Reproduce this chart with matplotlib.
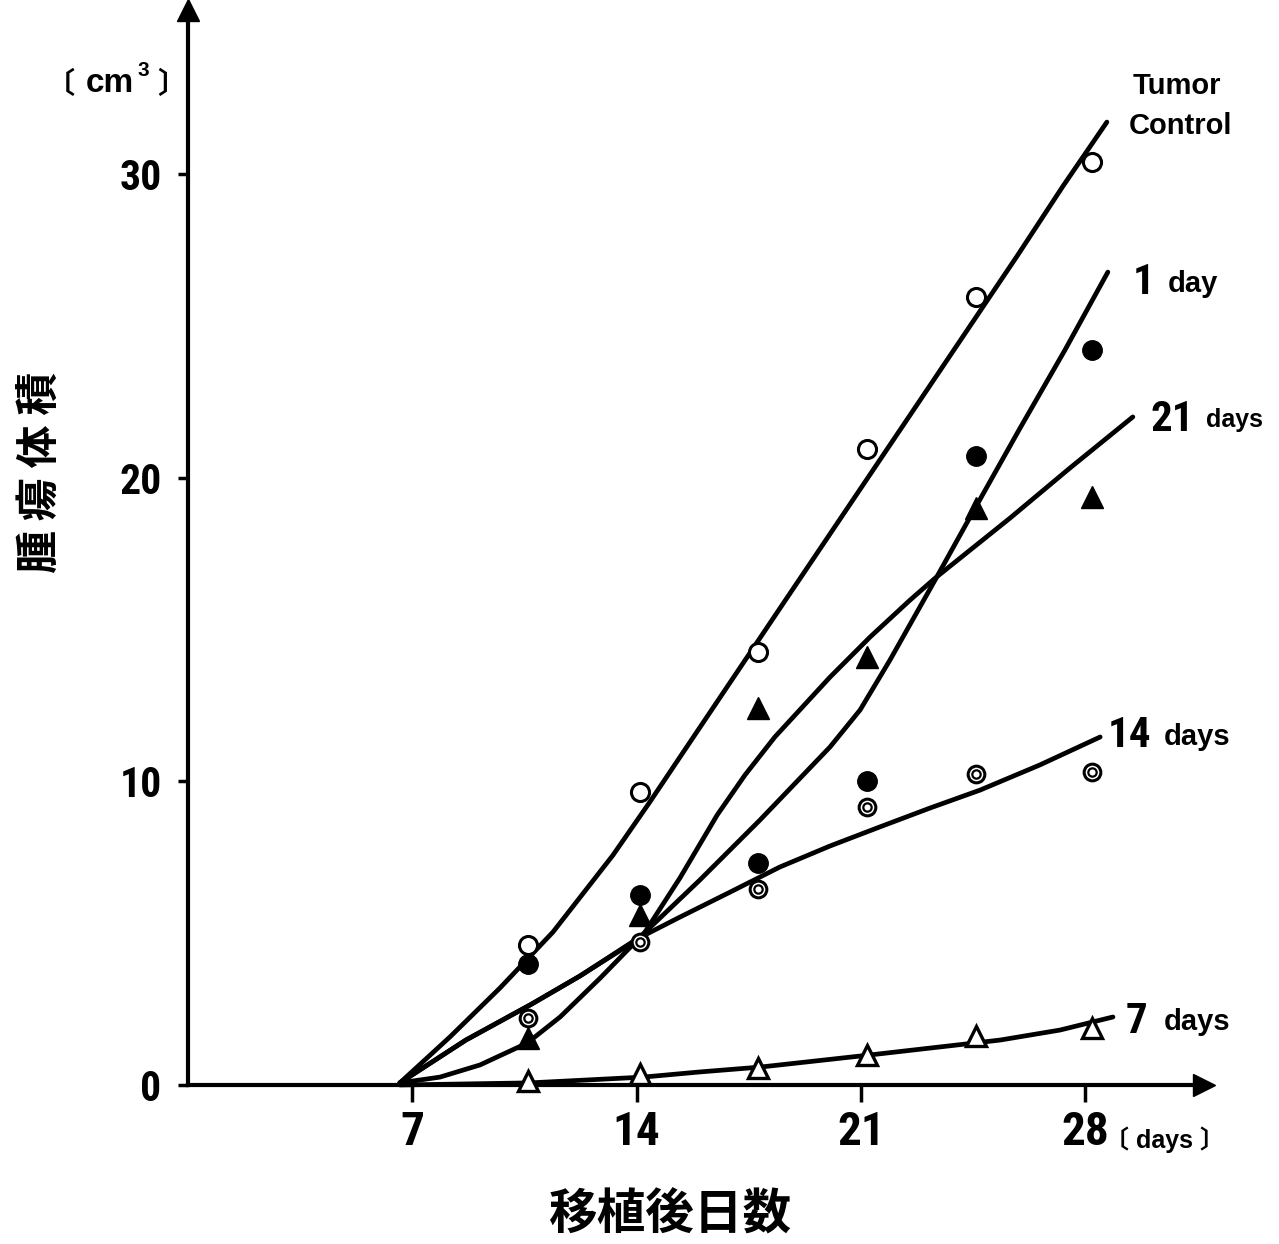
import matplotlib
matplotlib.use("Agg")
import matplotlib.pyplot as plt
from matplotlib import font_manager

# ---------------- data ----------------
days_measured = [10.6, 14.1, 17.8, 21.2, 24.6, 28.2]

control_vals = [4.6, 9.65, 14.25, 20.95, 25.95, 30.4]
day1_vals = [4.0, 6.25, 7.3, 10.0, 20.7, 24.2]
day21_vals = [1.55, 5.6, 12.4, 14.1, 19.0, 19.35]
day14_vals = [2.2, 4.7, 6.45, 9.15, 10.25, 10.3]
day7_vals = [0.13, 0.36, 0.56, 1.0, 1.6, 1.88]

# hand-drawn fitted curves
control_curve_x = [6.61, 8.17, 9.73, 11.39, 13.26, 14.41, 15.35, 18.56, 22.28, 25.87, 27.30, 28.67]
control_curve_y = [0.07, 1.58, 3.19, 5.04, 7.57, 9.32, 10.80, 15.84, 21.67, 27.30, 29.60, 31.71]

day1_curve_x = [6.61, 7.86, 9.11, 10.58, 11.61, 12.86, 14.2, 15.97, 17.85, 20.03, 20.97, 21.9,
                23.31, 24.4, 25.96, 27.36, 28.7]
day1_curve_y = [0.07, 0.26, 0.66, 1.38, 2.24, 3.52, 4.97, 6.75, 8.73, 11.13, 12.35, 13.99,
                16.63, 18.7, 21.63, 24.2, 26.77]

day21_curve_x = [6.61, 8.67, 10.73, 12.23, 14.2, 15.35, 16.51, 17.38, 18.31, 20.03, 21.28,
                 22.53, 23.31, 25.65, 27.52, 29.48]
day21_curve_y = [0.07, 1.48, 2.67, 3.59, 4.94, 6.82, 8.89, 10.21, 11.46, 13.43, 14.75,
                 15.97, 16.69, 18.67, 20.32, 22.0]

day14_curve_x = [6.61, 8.67, 10.73, 12.23, 14.2, 15.35, 16.91, 18.47, 20.03, 21.59, 23.15,
                 24.71, 26.58, 28.46]
day14_curve_y = [0.07, 1.48, 2.67, 3.59, 4.91, 5.53, 6.35, 7.18, 7.87, 8.5, 9.12,
                 9.71, 10.54, 11.46]

day7_curve_x = [6.61, 10.67, 14.2, 15.97, 17.85, 21.28, 25.34, 27.21, 28.86]
day7_curve_y = [0.0, 0.07, 0.26, 0.43, 0.59, 0.99, 1.48, 1.81, 2.24]

x_ticks = [7, 14, 21, 28]
y_ticks = [0, 10, 20, 30]

# ---------------- fonts ----------------
def pick(cands):
    for c in cands:
        try:
            font_manager.findfont(font_manager.FontProperties(family=c), fallback_to_default=False)
            return c
        except Exception:
            pass
    return "DejaVu Sans"

NARROW = pick(["Liberation Sans Narrow", "DejaVu Sans Condensed", "Roboto Condensed", "Liberation Sans"])
SANS = pick(["Liberation Sans", "Roboto", "DejaVu Sans"])
CJK = "Noto Sans CJK JP"

W, H = 1279, 1244
fig = plt.figure(figsize=(W / 100, H / 100), dpi=100)
fig.patch.set_facecolor("white")

def fx(px):
    return px / W

def fy(py):
    return 1 - py / H

ax = fig.add_axes([fx(188), fy(1085), (1204 - 188) / W, (1085 - 10) / H])
ax.set_xlim(0, 31.7)
ax.set_ylim(0, 35.4)

for s in ["top", "right"]:
    ax.spines[s].set_visible(False)
for s in ["left", "bottom"]:
    ax.spines[s].set_linewidth(3)
    ax.spines[s].set_color("black")

# arrow heads
ax.plot(1, 0, ">", color="black", markersize=16, transform=ax.transAxes, clip_on=False)
ax.plot(0, 1, "^", color="black", markersize=16, transform=ax.transAxes, clip_on=False)

ax.set_xticks(x_ticks)
ax.set_yticks(y_ticks)
ax.set_xticklabels([str(t) for t in x_ticks], fontfamily=NARROW, fontweight="bold", fontsize=34)
ax.set_yticklabels([str(t) for t in y_ticks], fontfamily=NARROW, fontweight="bold", fontsize=30)
ax.tick_params(axis="x", direction="out", length=12, width=2.5, pad=6)
ax.tick_params(axis="y", direction="out", length=7, width=2.5, pad=12)

lw = 3.4
for cx, cy in [(control_curve_x, control_curve_y), (day1_curve_x, day1_curve_y),
               (day21_curve_x, day21_curve_y), (day14_curve_x, day14_curve_y),
               (day7_curve_x, day7_curve_y)]:
    ax.plot(cx, cy, color="black", lw=lw, solid_capstyle="round", solid_joinstyle="round",
            clip_on=False, zorder=2)

# markers
ax.plot(days_measured, control_vals, "o", ms=13, mfc="white", mec="black", mew=2.2, zorder=4, clip_on=False)
ax.plot(days_measured, day1_vals, "o", ms=14, mfc="black", mec="black", zorder=4, clip_on=False)
ax.plot(days_measured, day21_vals, "^", ms=16, mfc="black", mec="black", zorder=4, clip_on=False)
ax.plot(days_measured, day14_vals, "o", ms=12, mfc="white", mec="black", mew=2.2, zorder=4, clip_on=False)
ax.plot(days_measured, day14_vals, "o", ms=6, mfc="white", mec="black", mew=1.6, zorder=5, clip_on=False)
ax.plot(days_measured, day7_vals, "^", ms=14, mfc="white", mec="black", mew=2.4, zorder=4, clip_on=False)

# series labels (baseline aligned)
def lab(px, py, s, size, fam, ha="left"):
    fig.text(fx(px), fy(py), s, fontsize=size, fontweight="bold", family=fam, ha=ha, va="baseline")

lab(1133, 94, "Tumor", 21, SANS)
lab(1129, 134, "Control", 21, SANS)
lab(1133, 294, "1", 31, NARROW)
lab(1168, 292, "day", 21, SANS)
lab(1150, 431, "21", 31, NARROW)
lab(1206, 427, "days", 18, SANS)
lab(1108, 747, "14", 31, NARROW)
lab(1164, 745, "days", 21, SANS)
lab(1126, 1033, "7", 31, NARROW)
lab(1164, 1030, "days", 21, SANS)

# units
lab(46, 93, "〔", 21, [CJK])
lab(86, 92, "cm", 24, SANS)
lab(137, 76, "3", 15, SANS)
lab(157, 93, "〕", 21, [CJK])
fig.text(fx(1104), fy(1140), "〔 days 〕", fontsize=18, fontweight="bold",
         family=[SANS, CJK], ha="left", va="center")

# axis titles
fig.text(fx(40), fy(472), "腫 瘍 体 積", fontsize=31, fontweight="bold", family=CJK,
         rotation=90, ha="center", va="center")
fig.text(fx(670), fy(1215), "移植後日数", fontsize=35, fontweight="bold", family=CJK,
         ha="center", va="center")

fig.savefig("out.png", dpi=100, facecolor="white")
